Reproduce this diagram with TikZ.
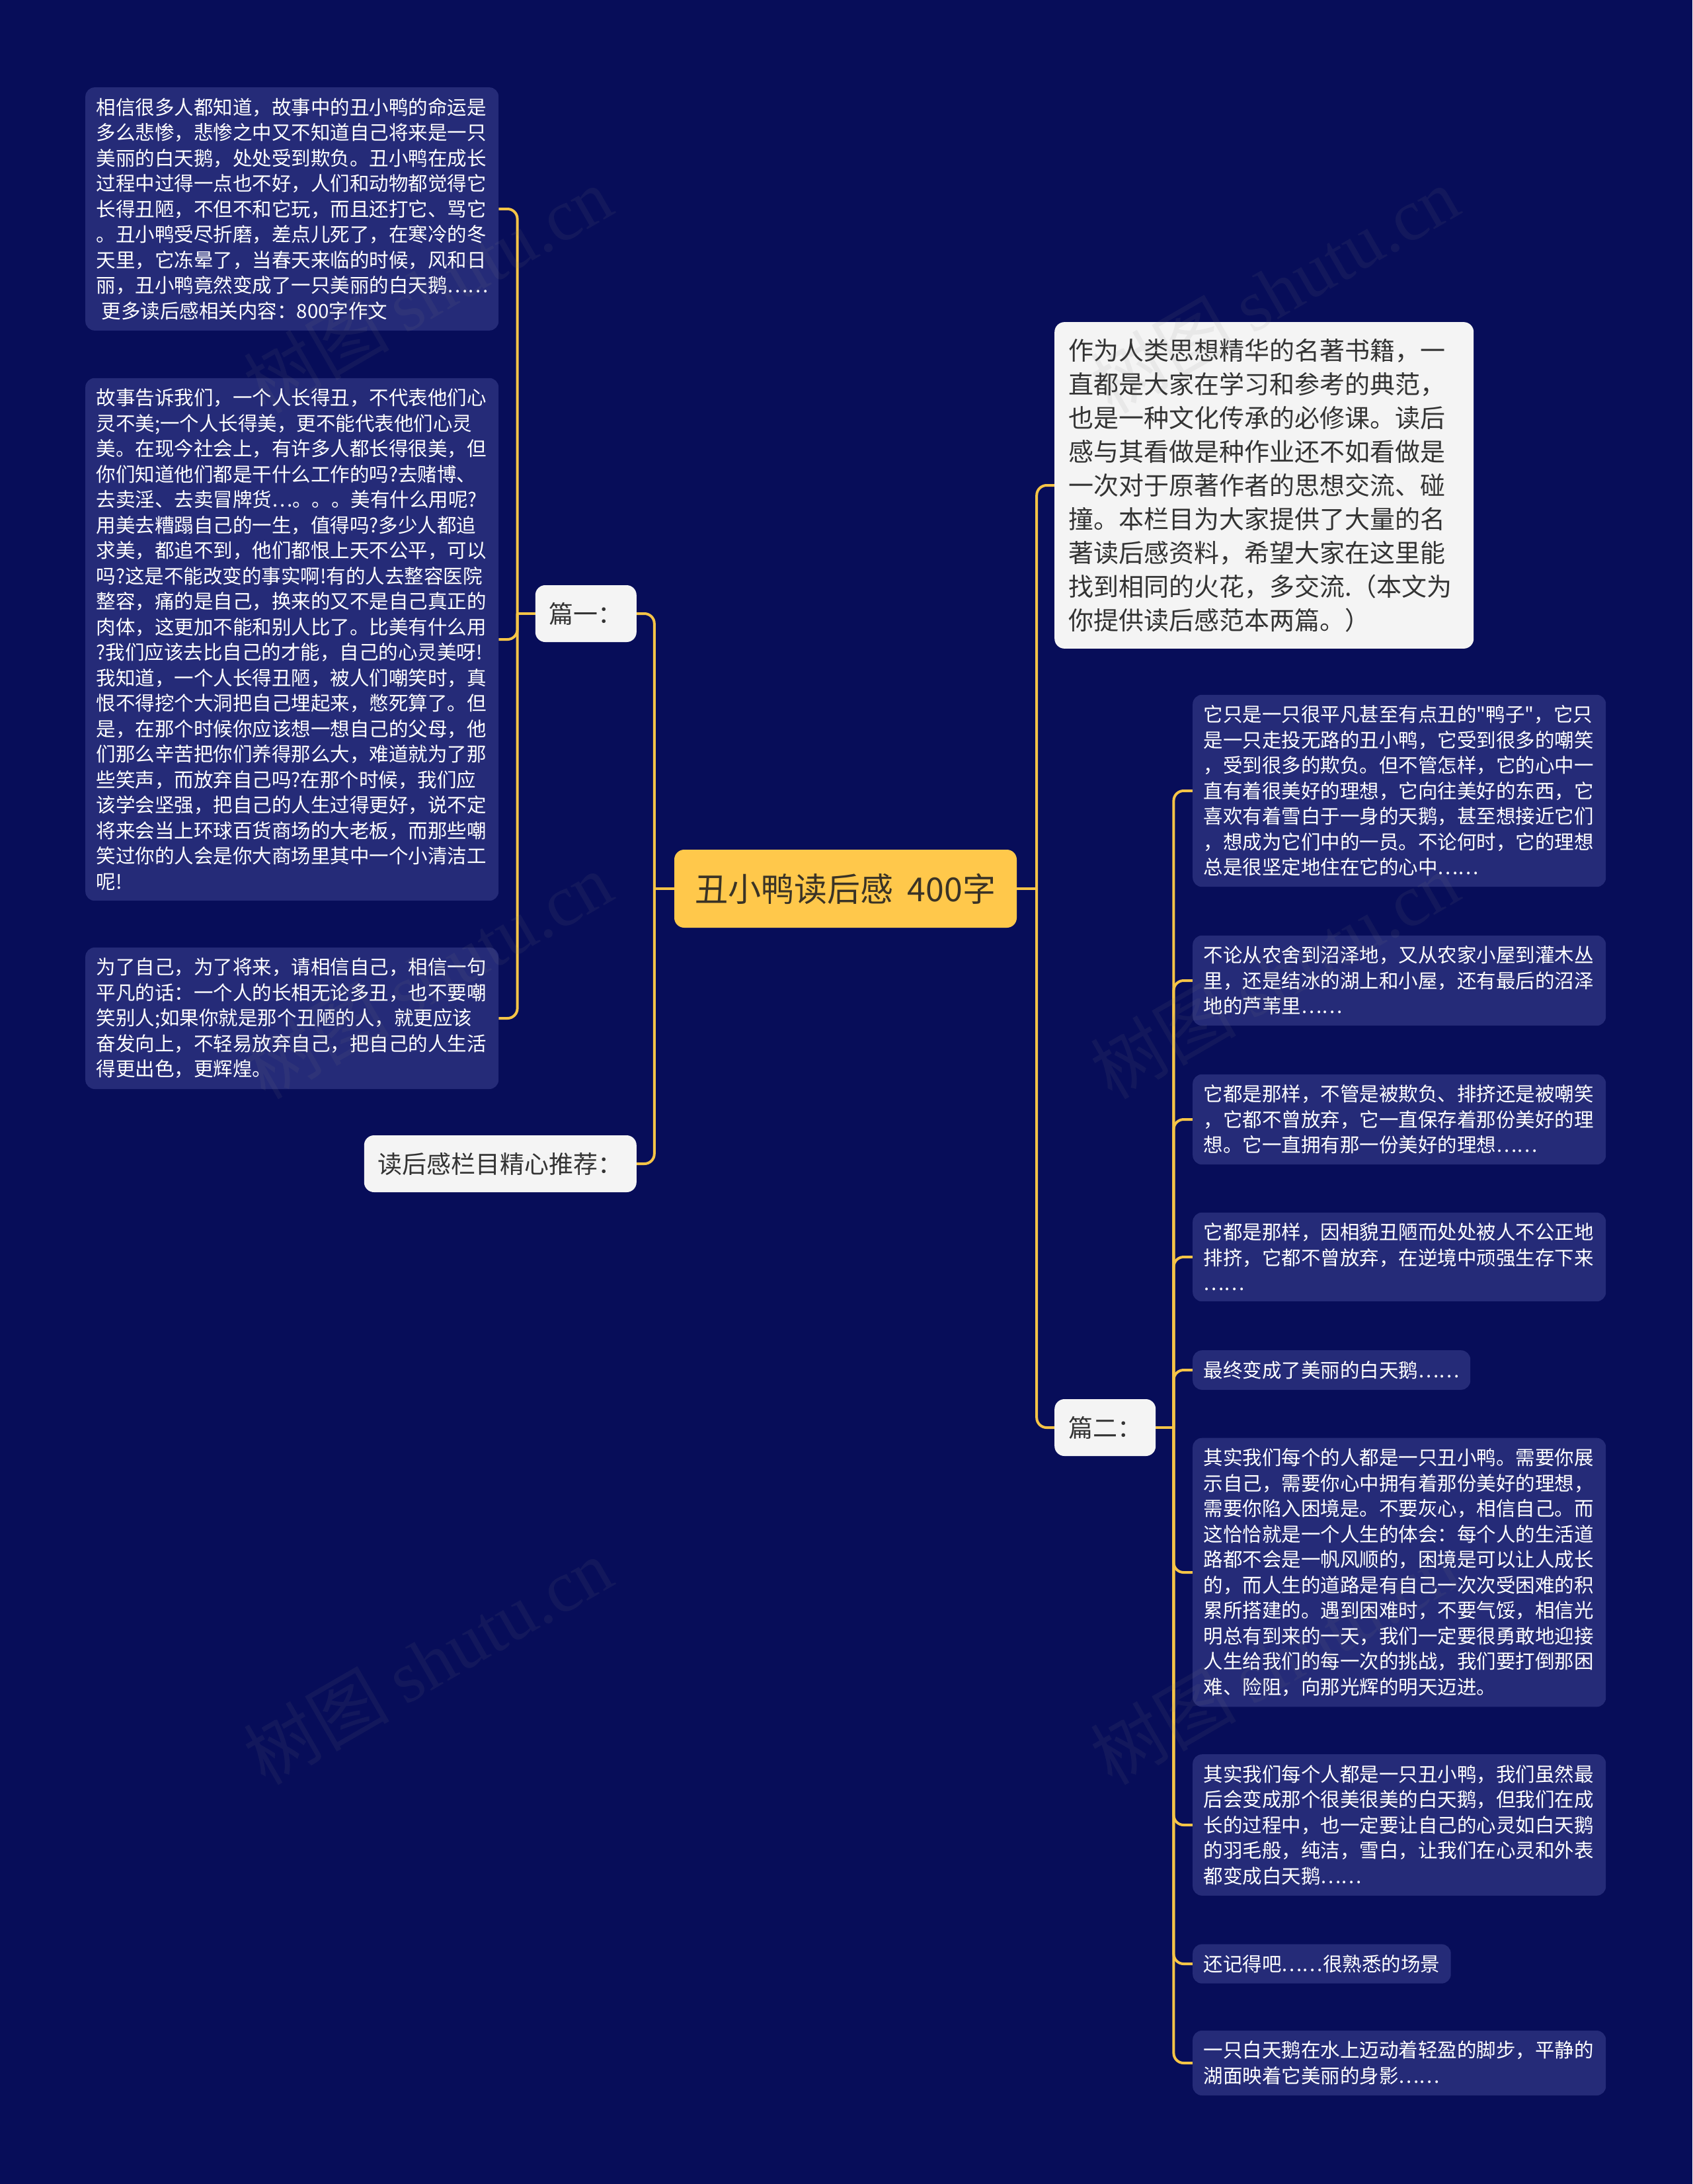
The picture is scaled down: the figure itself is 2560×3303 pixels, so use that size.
\documentclass[tikz,border=0pt]{standalone}
\usepackage{fontspec}
\setmainfont{Noto Sans CJK SC}
\newfontfamily\qfont{Noto Sans CJK SC}
\newfontfamily\wmcjk{Noto Sans CJK SC}
\newfontfamily\wmlat{Liberation Serif}
\definecolor{bgc}{HTML}{070D59}
\definecolor{boxc}{HTML}{252B78}
\definecolor{lblc}{HTML}{F4F4F4}
\definecolor{rootc}{HTML}{FFC84B}
\definecolor{txtd}{HTML}{333333}
\definecolor{rtext}{HTML}{3A3326}
\definecolor{linec}{HTML}{F5C447}
\pgfdeclarelayer{bgl}
\pgfdeclarelayer{lines}
\pgfdeclarelayer{wml}
\pgfsetlayers{bgl,lines,main,wml}
\begin{document}
\begin{tikzpicture}[x=1bp,y=-1bp,
  content/.style={fill=boxc, rounded corners=14bp, text=white, align=left, text width=592bp,
    inner xsep=16.5bp, inner ysep=16bp, font=\fontsize{29.5bp}{38.5bp}\selectfont},
  shortbox/.style={fill=boxc, rounded corners=14bp, text=white, inner xsep=16.5bp, inner ysep=16bp,
    font=\fontsize{29.5bp}{38.5bp}\selectfont, anchor=west},
  lbl/.style={fill=lblc, rounded corners=15bp, text=txtd, inner xsep=21bp, minimum height=86bp,
    font=\fontsize{37bp}{46bp}\selectfont},
  intro/.style={fill=lblc, rounded corners=15bp, text=txtd, align=left, text width=592bp,
    inner xsep=21bp, inner ysep=25bp, font=\fontsize{38bp}{51bp}\selectfont},
  rootbox/.style={fill=rootc, rounded corners=15bp, text=rtext, minimum width=518bp, minimum height=118bp,
    font=\fontsize{50bp}{60bp}\selectfont},
  conn/.style={draw=linec, line width=4bp},
  elbow/.style={conn, rounded corners=15bp},
  wmark/.style={text=gray, opacity=0.10, rotate=30, font=\fontsize{110bp}{120bp}\selectfont}
]
\begin{pgfonlayer}{bgl}
\fill[bgc] (0,0) rectangle (2560,3303);
\end{pgfonlayer}
\useasboundingbox (0,0) rectangle (2560,3303);

% root
\node[rootbox] (root) at (1279,1344) {丑小鸭读后感\hspace{0.42em}400字};

% left side
\node[lbl, anchor=east] (p1) at (963,928) {篇一：};
\node[lbl, anchor=east] (rec) at (963,1760) {读后感栏目精心推荐：};

\node[content, anchor=west] (l1) at (129,316) {相信很多人都知道，故事中的丑小鸭的命运是\\
多么悲惨，悲惨之中又不知道自己将来是一只\\
美丽的白天鹅，处处受到欺负。丑小鸭在成长\\
过程中过得一点也不好，人们和动物都觉得它\\
长得丑陋，不但不和它玩，而且还打它、骂它\\
。丑小鸭受尽折磨，差点儿死了，在寒冷的冬\\
天里，它冻晕了，当春天来临的时候，风和日\\
丽，丑小鸭竟然变成了一只美丽的白天鹅……\\
\hspace*{8bp}更多读后感相关内容：800字作文};

\node[content, anchor=west] (l2) at (129,967) {故事告诉我们，一个人长得丑，不代表他们心\\
灵不美;一个人长得美，更不能代表他们心灵\\
美。在现今社会上，有许多人都长得很美，但\\
你们知道他们都是干什么工作的吗?去赌博、\\
去卖淫、去卖冒牌货…。。。美有什么用呢?\\
用美去糟蹋自己的一生，值得吗?多少人都追\\
求美，都追不到，他们都恨上天不公平，可以\\
吗?这是不能改变的事实啊!有的人去整容医院\\
整容，痛的是自己，换来的又不是自己真正的\\
肉体，这更加不能和别人比了。比美有什么用\\
?我们应该去比自己的才能，自己的心灵美呀!\\
我知道，一个人长得丑陋，被人们嘲笑时，真\\
恨不得挖个大洞把自己埋起来，憋死算了。但\\
是，在那个时候你应该想一想自己的父母，他\\
们那么辛苦把你们养得那么大，难道就为了那\\
些笑声，而放弃自己吗?在那个时候，我们应\\
该学会坚强，把自己的人生过得更好，说不定\\
将来会当上环球百货商场的大老板，而那些嘲\\
笑过你的人会是你大商场里其中一个小清洁工\\
呢!};

\node[content, anchor=west] (l3) at (129,1540) {为了自己，为了将来，请相信自己，相信一句\\
平凡的话：一个人的长相无论多丑，也不要嘲\\
笑别人;如果你就是那个丑陋的人，就更应该\\
奋发向上，不轻易放弃自己，把自己的人生活\\
得更出色，更辉煌。};

% right side
\node[intro, anchor=west] (intro) at (1595,734) {作为人类思想精华的名著书籍，一\\
直都是大家在学习和参考的典范，\\
也是一种文化传承的必修课。读后\\
感与其看做是种作业还不如看做是\\
一次对于原著作者的思想交流、碰\\
撞。本栏目为大家提供了大量的名\\
著读后感资料，希望大家在这里能\\
找到相同的火花，多交流.（本文为\\
你提供读后感范本两篇。）};

\node[lbl, anchor=west] (p2) at (1595,2159) {篇二：};

\node[content, anchor=west] (r1) at (1804,1196) {它只是一只很平凡甚至有点丑的{\qfont"}鸭子{\qfont"}，它只\\
是一只走投无路的丑小鸭，它受到很多的嘲笑\\
，受到很多的欺负。但不管怎样，它的心中一\\
直有着很美好的理想，它向往美好的东西，它\\
喜欢有着雪白于一身的天鹅，甚至想接近它们\\
，想成为它们中的一员。不论何时，它的理想\\
总是很坚定地住在它的心中……};

\node[content, anchor=west] (r2) at (1804,1483) {不论从农舍到沼泽地，又从农家小屋到灌木丛\\
里，还是结冰的湖上和小屋，还有最后的沼泽\\
地的芦苇里……};

\node[content, anchor=west] (r3) at (1804,1693) {它都是那样，不管是被欺负、排挤还是被嘲笑\\
，它都不曾放弃，它一直保存着那份美好的理\\
想。它一直拥有那一份美好的理想……};

\node[content, anchor=west] (r4) at (1804,1901) {它都是那样，因相貌丑陋而处处被人不公正地\\
排挤，它都不曾放弃，在逆境中顽强生存下来\\
……};

\node[shortbox] (r5) at (1804,2072) {最终变成了美丽的白天鹅……};

\node[content, anchor=west] (r6) at (1804,2378) {其实我们每个的人都是一只丑小鸭。需要你展\\
示自己，需要你心中拥有着那份美好的理想，\\
需要你陷入困境是。不要灰心，相信自己。而\\
这恰恰就是一个人生的体会：每个人的生活道\\
路都不会是一帆风顺的，困境是可以让人成长\\
的，而人生的道路是有自己一次次受困难的积\\
累所搭建的。遇到困难时，不要气馁，相信光\\
明总有到来的一天，我们一定要很勇敢地迎接\\
人生给我们的每一次的挑战，我们要打倒那困\\
难、险阻，向那光辉的明天迈进。};

\node[content, anchor=west] (r7) at (1804,2760) {其实我们每个人都是一只丑小鸭，我们虽然最\\
后会变成那个很美很美的白天鹅，但我们在成\\
长的过程中，也一定要让自己的心灵如白天鹅\\
的羽毛般，纯洁，雪白，让我们在心灵和外表\\
都变成白天鹅……};

\node[shortbox] (r8) at (1804,2970) {还记得吧……很熟悉的场景};

\node[content, anchor=west] (r9) at (1804,3120) {一只白天鹅在水上迈动着轻盈的脚步，平静的\\
湖面映着它美丽的身影……};

% connectors
\begin{pgfonlayer}{lines}
\coordinate (jl) at ([xshift=-30bp]root.west);
\coordinate (jr) at ([xshift=30bp]root.east);
\coordinate (j1) at ([xshift=-27bp]p1.west);
\coordinate (j2) at ([xshift=27bp]p2.east);
\draw[conn] (root.west) -- (jl);
\draw[conn] (root.east) -- (jr);
\draw[elbow] (jl) |- (p1.east);
\draw[elbow] (jl) |- (rec.east);
\draw[elbow] (jr) |- (intro.west);
\draw[elbow] (jr) |- (p2.west);
\draw[conn] (p1.west) -- (j1);
\foreach \c in {l1,l2,l3} \draw[elbow] (j1) |- (\c.east);
\draw[conn] (p2.east) -- (j2);
\foreach \c in {r1,r2,r3,r4,r5,r6,r7,r8,r9} \draw[elbow] (j2) |- (\c.west);
\end{pgfonlayer}

% watermarks
\begin{pgfonlayer}{wml}
\foreach \wx/\wy [count=\i] in {647/438,647/1475,647/2512,1928/438,1928/1475,1928/2512}
  \node[wmark] (wm\i) at (\wx,\wy) {{\wmcjk 树图} {\wmlat shutu.cn}};
\end{pgfonlayer}
\end{tikzpicture}
\end{document}
